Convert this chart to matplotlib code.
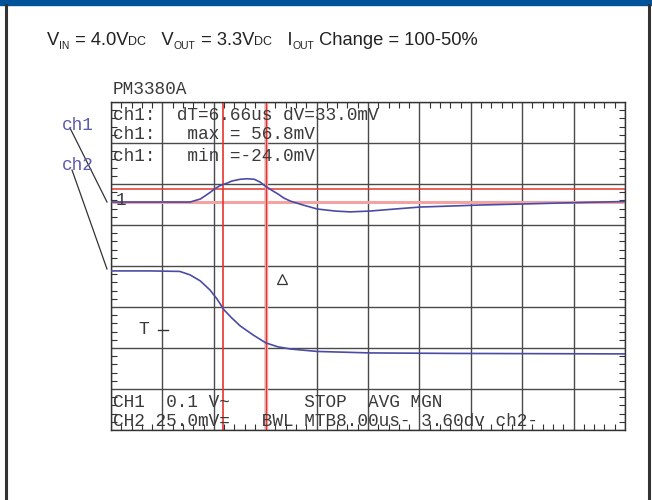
import matplotlib
matplotlib.use('Agg')
import matplotlib.pyplot as plt
import numpy as np

# scope settings
t_per_div = 8.0        # MTB 8.00us
ch1_mv_per_div = 100.0  # CH1 0.1 V~
ch2_mv_per_div = 25.0   # CH2 25.0mV=

# ch1: output voltage deviation (mV) vs time (us)
time_ch1 = [0, 6.1, 12.3, 13.9, 14.6, 15.4, 16.2, 17.0, 18.1, 18.8, 20.1, 21.2,
            22.3, 23.2, 24.0, 25.1, 26.0, 26.9, 27.9, 29.9, 32.1, 34.9, 37.2,
            40.3, 44.2, 48.1, 52.8, 57.4, 63.7, 69.9, 76.1, 80.0]
ch1_mv = [0, 0, 0, 7.3, 14.6, 23.2, 32.9, 40.2, 46.3, 51.2, 55.5, 56.8,
          55.5, 48.8, 39.0, 28.0, 19.5, 9.8, 2.4, -7.3, -17.0, -22.0, -24.0,
          -22.0, -17.0, -12.2, -9.8, -7.3, -4.9, -2.4, 0, 1.2]

# ch2: load current step (mV on the probe) vs time (us)
time_ch2 = [0, 6.1, 10.7, 12.3, 13.9, 15.4, 16.5, 17.6, 18.8, 20.1, 22.1, 24.1,
            26.0, 27.9, 32.1, 40.3, 52.8, 80.0]
ch2_mv = [50, 50, 49.7, 47.6, 43.9, 38.4, 32.9, 26.2, 21.3, 16.5, 11.0, 6.1,
          3.7, 2.4, 0.9, 0, -0.3, -0.6]

# cursors
cursor_t1 = 17.5
cursor_dt = 6.66
cursor_dv = 33.0

# screen text lines
header = 'PM3380A'
readout = ['ch1:  dT=6.66us dV=33.0mV',
           'ch1:   max = 56.8mV',
           'ch1:   min =-24.0mV']
status = ['CH1  0.1 V~       STOP  AVG MGN',
          'CH2 25.0mV=   BWL MTB8.00us- 3.60dv ch2-']

W, H = 652, 500
fig = plt.figure(figsize=(W / 100, H / 100), dpi=100)

# overlay in pixel units for the frame and labels
ov = fig.add_axes([0, 0, 1, 1], zorder=3)
ov.set_xlim(0, W)
ov.set_ylim(H, 0)
ov.axis('off')
ov.patch.set_alpha(0)

ov.fill_between([0, W], 0, 5, color='#00539b')
ov.plot([6, 6], [5, H], color='#333333', lw=2.2)
ov.plot([649, 649], [5, H], color='#333333', lw=2.2)

# title with subscripts, drawn piece by piece
renderer = fig.canvas.get_renderer()
tfam = ['Liberation Sans', 'DejaVu Sans']
pieces = [('V', 13.2, 0), ('IN', 7.5, 4), (' = 4.0V', 13.2, 0), ('DC', 9, 0),
          ('   V', 13.2, 0), ('OUT', 7.5, 4), (' = 3.3V', 13.2, 0), ('DC', 9, 0),
          ('   I', 13.2, 0), ('OUT', 7.5, 4), (' Change = 100-50%', 13.2, 0)]
x = 47
for s, size, drop in pieces:
    t = ov.text(x, 45 + drop, s, fontsize=size, family=tfam, color='#222222',
                ha='left', va='baseline')
    bb = t.get_window_extent(renderer)
    x += bb.width

# scope screen
scope = fig.add_axes([111 / W, 1 - 430 / H, 514 / W, 328 / H], zorder=1)
scope.set_xlim(0, 10 * t_per_div)
scope.set_ylim(0, 8)
scope.set_xticks(np.arange(0, 10 * t_per_div + 1, t_per_div))
scope.set_yticks(np.arange(0, 9, 1))
scope.set_xticks(np.arange(0, 10 * t_per_div + 0.01, t_per_div / 5), minor=True)
scope.set_yticks(np.arange(0, 8.01, 0.2), minor=True)
scope.tick_params(which='both', direction='in', top=True, right=True,
                  labelbottom=False, labelleft=False, color='#333333')
scope.tick_params(which='major', length=0)
scope.tick_params(which='minor', length=4, width=0.8)
scope.grid(True, which='major', color='#4a4a4a', lw=1)
for sp in scope.spines.values():
    sp.set_color('#333333')
    sp.set_linewidth(1)

ch1_pos = 5.56
ch2_pos = 1.88
ch1_y = ch1_pos + np.array(ch1_mv) / ch1_mv_per_div
ch2_y = ch2_pos + np.array(ch2_mv) / ch2_mv_per_div

scope.axhline(ch1_pos, color='#f4a3a3', lw=2.2, zorder=2)
scope.axhline(ch1_pos + cursor_dv / ch1_mv_per_div, color='#e8342c', lw=1.1, zorder=2)
scope.axvline(cursor_t1, color='#e8342c', lw=1.2, zorder=2)
scope.axvline(cursor_t1 + cursor_dt, color='#f4a3a3', lw=2.4, zorder=2)
scope.axvline(cursor_t1 + cursor_dt, color='#e8342c', lw=0.8, zorder=2)

scope.plot(time_ch1, ch1_y, color='#4b4ba6', lw=1.2, zorder=3)
scope.plot(time_ch2, ch2_y, color='#4b4ba6', lw=1.2, zorder=3)
scope.plot([t_per_div * (282 - 111) / 51.4], [(430 - 279) / 41], marker='^',
           mfc='none', mec='#333333', ms=7, mew=0.9, zorder=3)

mono = dict(family=['Liberation Mono', 'DejaVu Sans Mono'], fontsize=12.8,
            color='#3a3a3a', ha='left', va='baseline')
ov.text(113, 94, header, **mono)
for line, yb in zip(readout, [120, 139, 161]):
    ov.text(113, yb, line, **mono)
for line, yb in zip(status, [407, 426]):
    ov.text(113, yb, line, **mono)
ov.text(116, 205, '1', **mono)
ov.text(138, 334, 'T', **mono)
ov.plot([158, 168], [330, 330], color='#333333', lw=1)

# channel labels with leader lines
lab = dict(family=['Liberation Mono', 'DejaVu Sans Mono'], fontsize=12.8,
           color='#5a5aaa', ha='left', va='baseline')
ov.text(62, 130, 'ch1', **lab)
ov.text(62, 170, 'ch2', **lab)
ov.plot([70, 107], [128, 202], color='#333333', lw=0.9)
ov.plot([72, 107], [170, 269], color='#333333', lw=0.9)

fig.savefig('out.png', dpi=100)
